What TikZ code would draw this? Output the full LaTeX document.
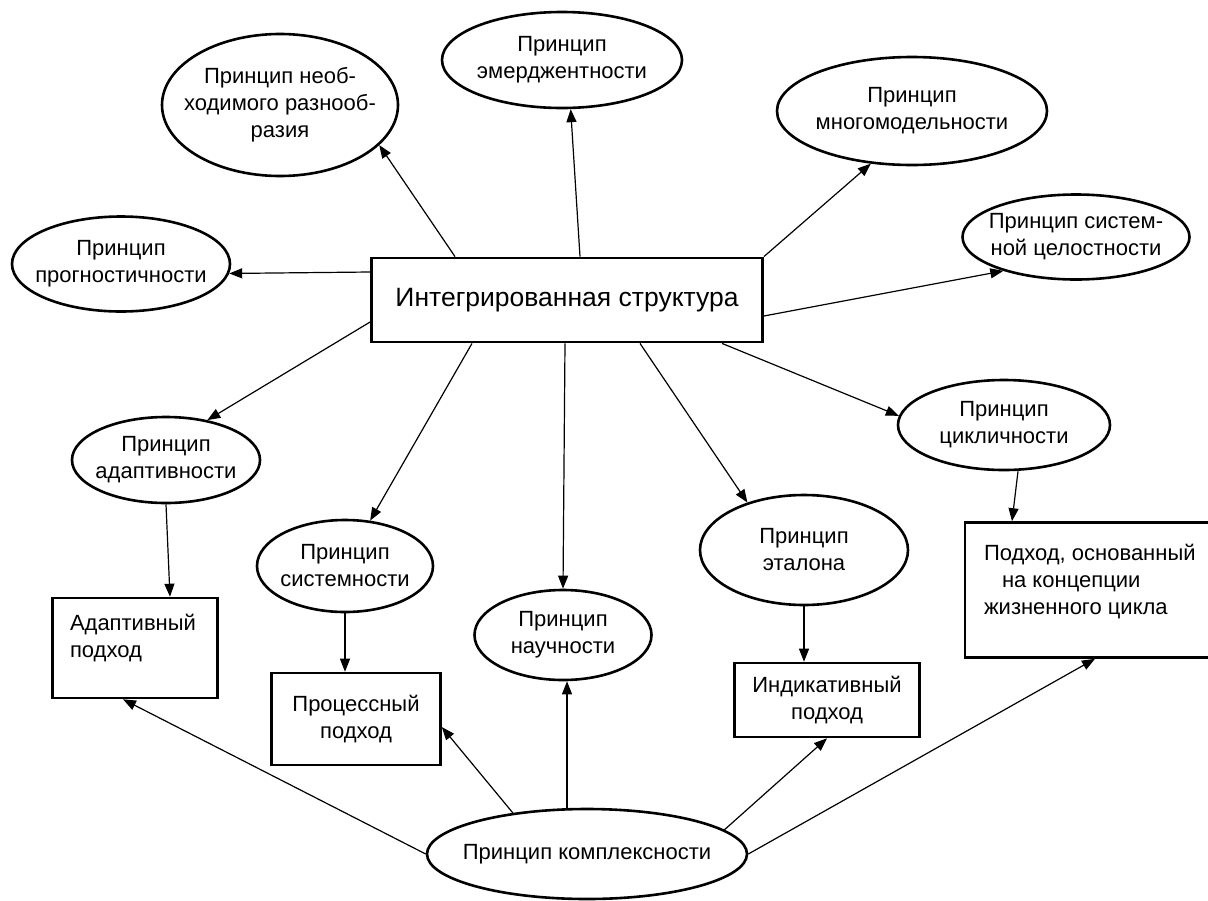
\documentclass[tikz,border=0pt]{standalone}
\usepackage{fontspec}
\setmainfont{Liberation Sans}
\usetikzlibrary{arrows.meta,shapes.geometric}

\begin{document}
\begin{tikzpicture}[
  x=1pt, y=-1pt,
  font=\fontsize{22}{27}\selectfont,
  arr/.style={-{Triangle[length=13pt,width=10pt]}, line width=1.2pt},
  prin/.style={ellipse, draw, line width=2.6pt, inner xsep=-40pt, inner ysep=0pt,
               align=center},
  apbox/.style={rectangle, draw, line width=2.6pt, inner sep=0pt, align=center},
  core/.style={rectangle, draw, line width=2.8pt, font=\fontsize{26.5}{31}\selectfont,
               minimum width=391pt, minimum height=84pt},
]
\useasboundingbox (0,0) rectangle (1208,900);

%% ===== Central node =====
\node[core] (c) at (567,300) {Интегрированная структура};

%% ===== Principles, upper half =====
\node[prin, minimum width=236pt, minimum height=142pt] (nr) at (280,105)
  {Принцип необ-\\ходимого разнооб-\\разия};
\node[prin, minimum width=240pt, minimum height=96pt] (em) at (562,60)
  {Принцип\\эмерджентности};
\node[prin, minimum width=270pt, minimum height=108pt] (mm) at (912,111)
  {Принцип\\многомодельности};
\node[prin, minimum width=227pt, minimum height=85pt] (sc) at (1076,237)
  {Принцип систем-\\ной целостности};
\node[prin, minimum width=218pt, minimum height=95pt] (pg) at (121,264)
  {Принцип\\прогностичности};

%% ===== Principles, lower half =====
\node[prin, minimum width=188pt, minimum height=86pt] (ad) at (166,460)
  {Принцип\\адаптивности};
\node[prin, minimum width=176pt, minimum height=92pt] (sy) at (345,566)
  {Принцип\\системности};
\node[prin, minimum width=177pt, minimum height=90pt] (nk) at (563,635)
  {Принцип\\научности};
\node[prin, minimum width=208pt, minimum height=110pt] (et) at (804,550)
  {Принцип\\эталона};
\node[prin, minimum width=212pt, minimum height=90pt] (cy) at (1004,425)
  {Принцип\\цикличности};
\node[prin, minimum width=320pt, minimum height=90pt] (kx) at (587,854)
  {Принцип комплексности};

%% ===== Approaches =====
\node[apbox, minimum width=165pt, minimum height=100pt] (adb) at (135,648)
  {\parbox[c][68pt][t]{130pt}{Адаптивный\\подход}};
\node[apbox, minimum width=169pt, minimum height=92pt] (prb) at (356,719)
  {Процессный\\подход};
\node[apbox, minimum width=185pt, minimum height=74pt] (inb) at (827,700)
  {Индикативный\\подход};
\node[apbox, minimum width=250pt, minimum height=135pt] (lcb) at (1090,590)
  {\parbox[c][92pt][t]{212pt}{Подход, основанный\\\hspace*{18pt}на концепции\\жизненного цикла}};

%% ===== From the central node =====
\draw[arr] ([xshift=-112pt]c.north) -- (nr.-22);
\draw[arr] ([xshift=13pt]c.north) -- (em.-80);
\draw[arr] (c.north east) -- (mm.-128);
\draw[arr] ([yshift=-16pt]c.east) -- (sc.-155);
\draw[arr] ([yshift=28pt]c.west) -- (pg.-5);
\draw[arr] ([yshift=-22pt]c.west) -- (ad.44);
\draw[arr] ([xshift=-95pt]c.south) -- (sy.61);
\draw[arr] ([xshift=-2pt]c.south) -- (nk.north);
\draw[arr] ([xshift=73pt]c.south) -- (et.140);
\draw[arr] ([xshift=155pt]c.south) -- (cy.175);

%% ===== Principles to approaches =====
\draw[arr] (ad.south) -- ([xshift=35pt]adb.north);
\draw[arr] (sy.south) -- (sy.south |- prb.north);
\draw[arr] (et.south) -- (et.south |- inb.north);
\draw[arr] ([xshift=14pt]cy.south) -- ([xshift=-78pt]lcb.north);

%% ===== From the complexity principle =====
\draw[arr] (kx.west) -- ([xshift=-12pt]adb.south);
\draw[arr] (kx.151) -- ([yshift=-8pt]prb.east);
\draw[arr] ([xshift=-20pt]kx.north) -- ([xshift=4pt]nk.south);
\draw[arr] (kx.10) -- (inb.south);
\draw[arr] (kx.east) -- ([xshift=5pt]lcb.south);

\end{tikzpicture}
\end{document}
